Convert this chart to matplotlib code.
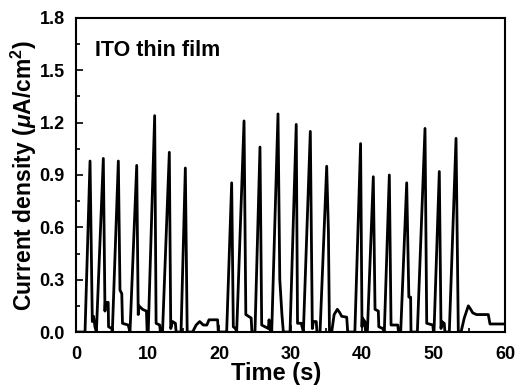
import numpy as np
import matplotlib.pyplot as plt
from matplotlib.ticker import MultipleLocator, FormatStrFormatter

plt.rcParams['font.family'] = ['Liberation Sans', 'DejaVu Sans']
plt.rcParams['font.weight'] = 'bold'
plt.rcParams['axes.labelweight'] = 'bold'
plt.rcParams['mathtext.fontset'] = 'custom'
plt.rcParams['mathtext.rm'] = 'Liberation Sans:bold'
plt.rcParams['mathtext.it'] = 'Liberation Sans:bold:italic'

# photocurrent trace (time in s, current in uA/cm^2)
time_s = [0, 1.26, 1.96, 2.28, 2.45, 2.65, 2.85,
          3.82, 4.05, 4.1, 4.5, 4.55, 5.0, 5.08,
          5.92, 6.15, 6.4, 6.5, 7.3, 7.55,
          8.49, 8.7, 8.8, 9.3, 9.85, 9.95, 10.1,
          11.0, 11.2, 11.7, 11.8, 12.1,
          13.05, 13.25, 13.5, 13.9, 14.0, 14.69,
          15.29, 15.55, 16.3, 16.8, 17.3, 17.8, 18.3, 18.6, 19.8, 19.9, 21.07,
          21.77, 22.0, 22.3, 22.47,
          23.5, 23.75, 24.5, 24.6, 25.03,
          25.73, 25.97, 26.9, 27.0, 27.2, 27.37,
          28.25, 28.5, 28.8, 29.0, 29.93,
          30.8, 30.98, 31.5, 31.8,
          32.77, 33.05, 33.2, 33.6, 33.7, 34.13,
          35.06, 35.3, 35.45, 35.76, 36.1, 36.55, 36.9, 37.15, 37.86, 38.0, 39.0,
          39.8, 40.0, 40.05, 40.4, 40.5, 40.75,
          41.58, 41.82, 42.28, 42.35, 42.9, 43.12,
          43.82, 44.06, 45.0, 45.1, 45.41,
          46.25, 46.55, 46.8, 46.85, 47.74,
          48.81, 49.05, 49.9, 50.0, 50.07,
          50.81, 51.05, 51.15, 51.5, 51.6, 52.21,
          53.15, 53.47, 53.85, 54.3, 54.87, 55.2, 55.48, 56.0, 57.66, 57.9, 60]
current = [0, 0, 0.98, 0.06, 0.09, 0.03, 0,
           0.995, 0.12, 0.17, 0.17, 0.03, 0.02, 0,
           0.98, 0.24, 0.22, 0.05, 0.04, 0,
           0.955, 0.1, 0.15, 0.13, 0.12, 0, 0,
           1.24, 0.05, 0.04, 0, 0,
           1.03, 0.02, 0.06, 0.05, 0, 0,
           0.94, 0, 0, 0.04, 0.06, 0.04, 0.04, 0.07, 0.07, 0, 0,
           0.855, 0.03, 0.02, 0,
           1.21, 0.1, 0.08, 0, 0,
           1.06, 0.04, 0.02, 0.07, 0, 0,
           1.25, 0.3, 0.1, 0, 0,
           1.19, 0.05, 0.05, 0,
           1.15, 0.02, 0.06, 0.06, 0, 0,
           0.95, 0.58, 0, 0, 0.1, 0.13, 0.11, 0.09, 0.085, 0, 0,
           1.08, 0.03, 0.08, 0.06, 0, 0,
           0.89, 0.13, 0.12, 0.03, 0.02, 0,
           0.90, 0.04, 0.04, 0, 0,
           0.855, 0.2, 0.2, 0, 0,
           1.167, 0.05, 0.04, 0, 0,
           0.92, 0.02, 0.06, 0.05, 0, 0,
           1.11, 0, 0, 0.08, 0.15, 0.13, 0.11, 0.1, 0.1, 0.046, 0.046]

fig = plt.figure(figsize=(5.15, 3.9), dpi=100)
ax = fig.add_axes([0.1476, 0.1487, 0.8330, 0.8052])

ax.plot(time_s, current, color='black', linewidth=2.0)

ax.set_xlim(0, 60)
ax.set_ylim(0, 1.8)
ax.xaxis.set_major_locator(MultipleLocator(10))
ax.xaxis.set_minor_locator(MultipleLocator(5))
ax.yaxis.set_major_locator(MultipleLocator(0.3))
ax.yaxis.set_minor_locator(MultipleLocator(0.15))
ax.yaxis.set_major_formatter(FormatStrFormatter('%.1f'))
ax.tick_params(which='both', direction='in', width=1.2, labelsize=13)
ax.tick_params(axis='x', which='major', length=5, pad=10)
ax.tick_params(axis='y', which='major', length=5, pad=8)
ax.tick_params(which='minor', length=3)
for lab in ax.get_xticklabels() + ax.get_yticklabels():
    lab.set_fontweight('bold')
for s in ax.spines.values():
    s.set_linewidth(1.5)

ax.set_xlabel('Time (s)', fontsize=17)
ax.xaxis.set_label_coords(0.466, -0.097)
ax.set_ylabel(r'Current density ($\mathit{\mu}$A/cm$^2$)', fontsize=16.5)
ax.yaxis.set_label_coords(-0.086, 0.5)
ax.text(0.045, 0.895, 'ITO thin film', transform=ax.transAxes, fontsize=15.5,
        fontweight='bold', va='center')

fig.savefig('out.png', dpi=100)
